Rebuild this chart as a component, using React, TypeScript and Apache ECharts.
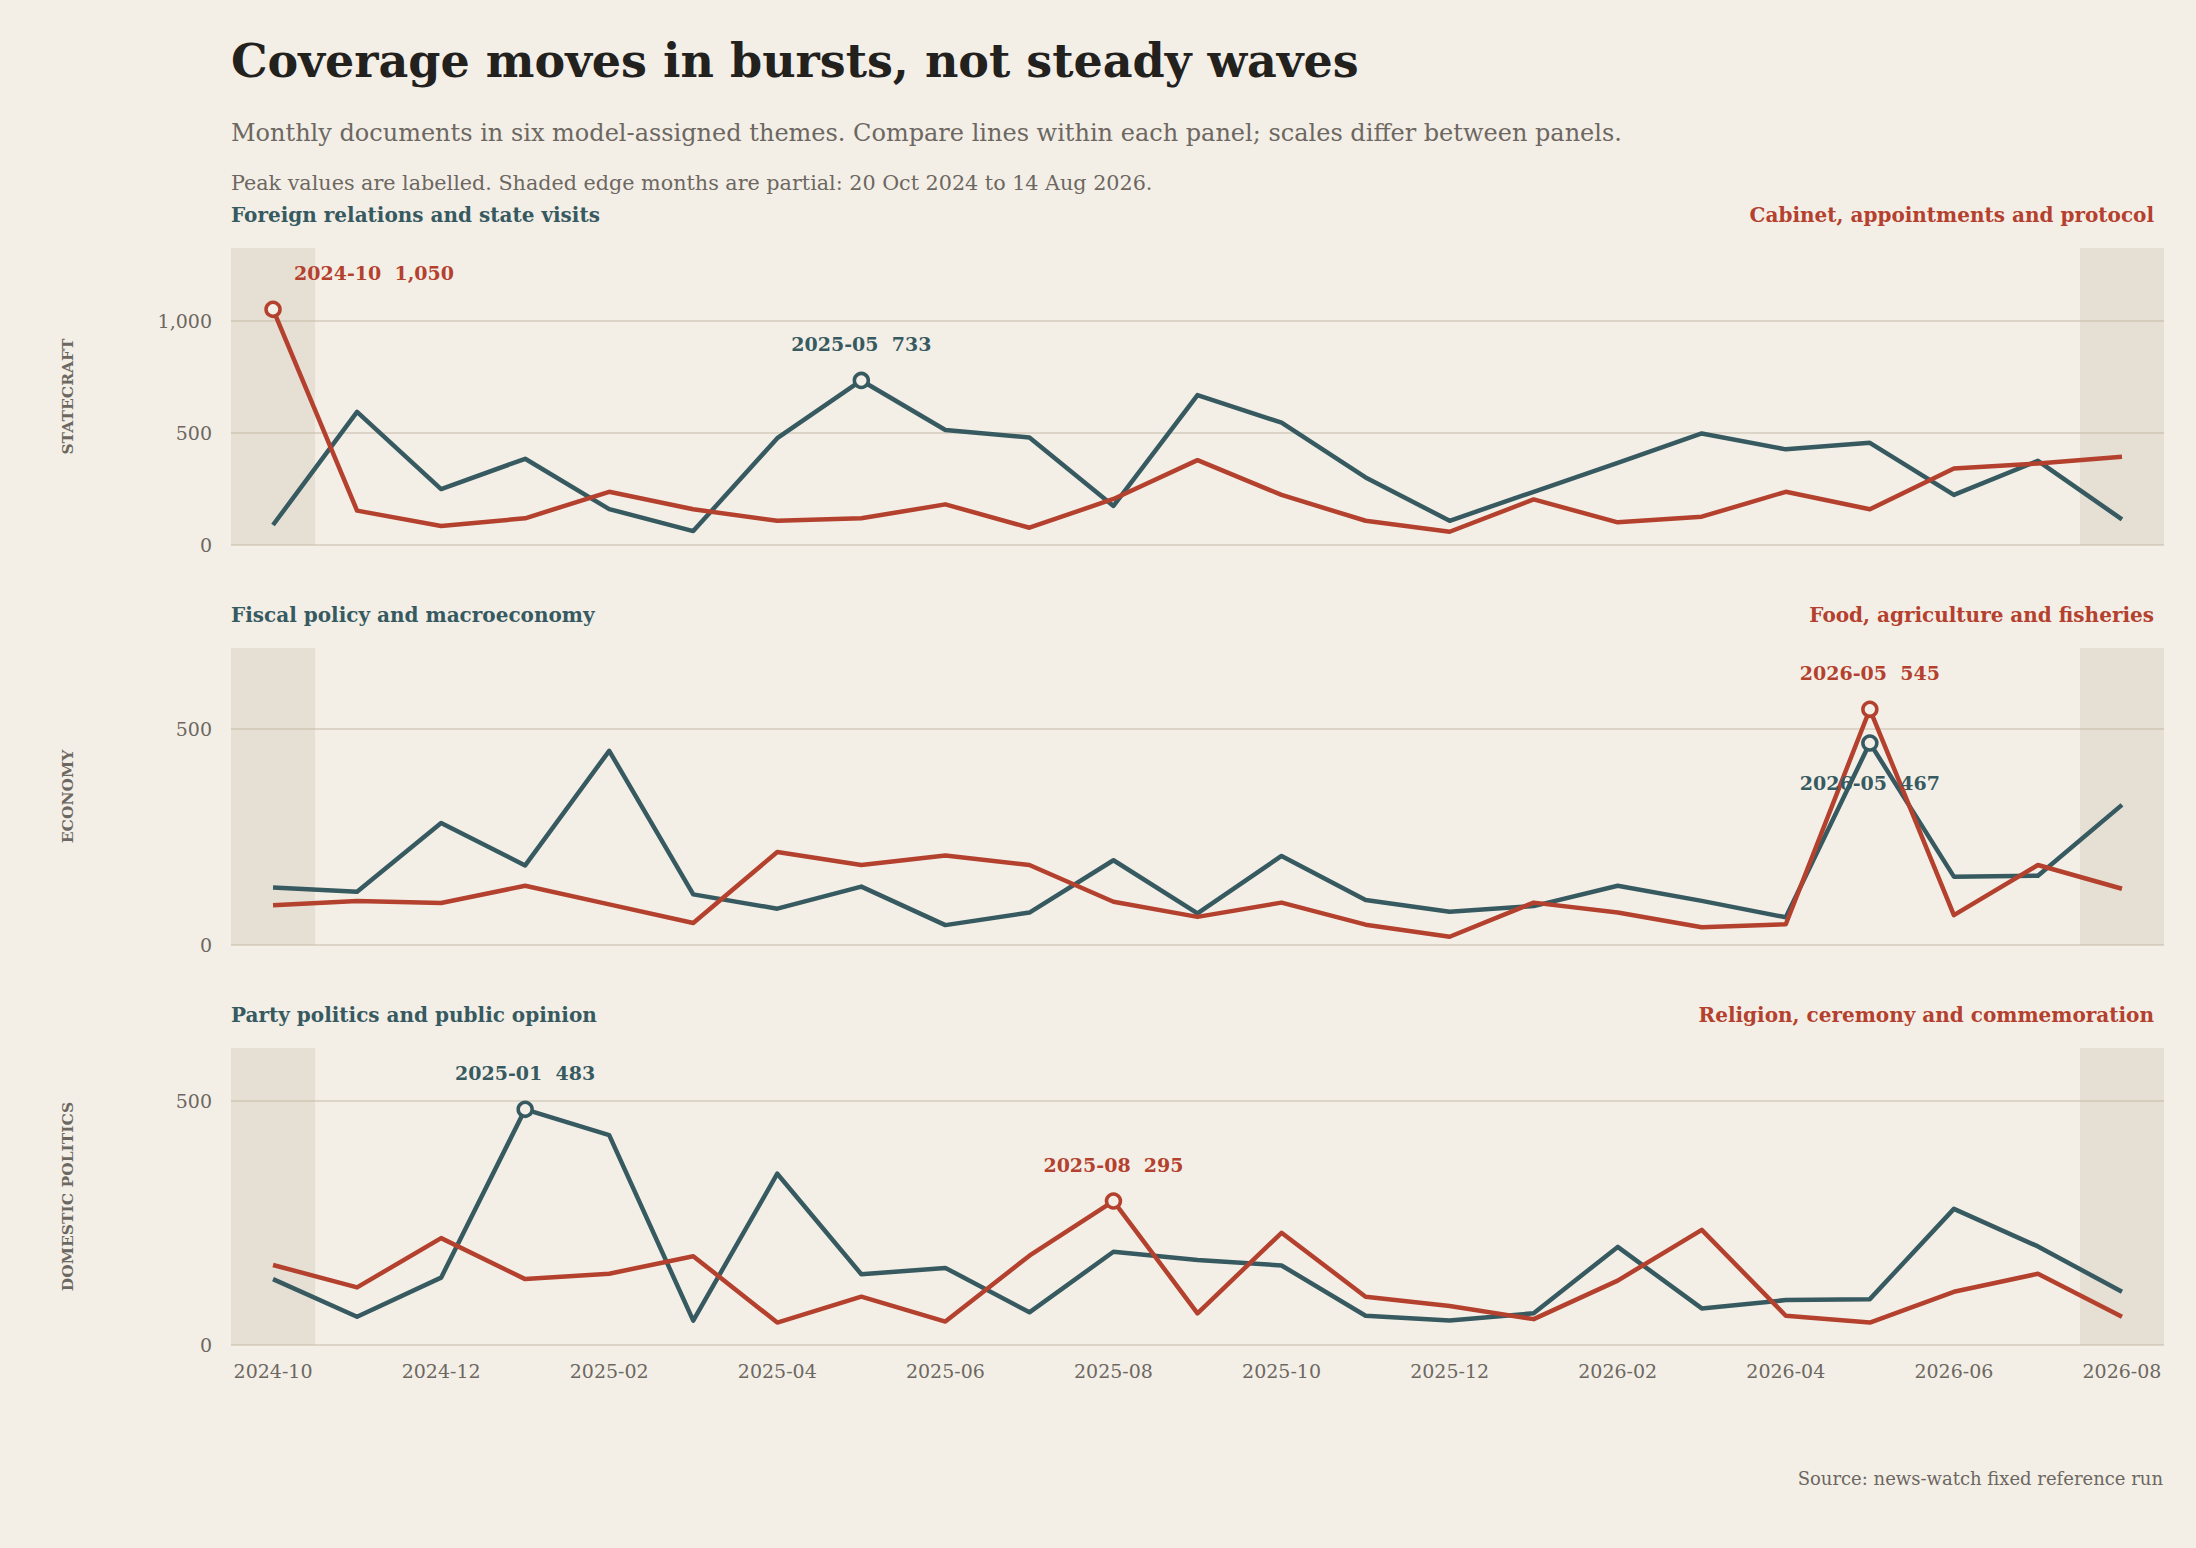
import React, { useEffect, useRef } from "react";
import * as echarts from "echarts";

const months = [
  "2024-10", "2024-11", "2024-12", "2025-01", "2025-02", "2025-03", "2025-04", "2025-05",
  "2025-06", "2025-07", "2025-08", "2025-09", "2025-10", "2025-11", "2025-12", "2026-01",
  "2026-02", "2026-03", "2026-04", "2026-05", "2026-06", "2026-07", "2026-08",
];

const statecraftForeign = [89, 593, 249, 384, 160, 62, 476, 733, 512, 479, 174, 668, 545, 301, 108, 237, 366, 497, 426, 455, 223, 375, 114];
const statecraftCabinet = [1050, 153, 85, 119, 237, 159, 108, 119, 181, 77, 205, 378, 223, 108, 59, 203, 101, 126, 237, 159, 341, 363, 393];
const economyFiscal = [133, 123, 282, 184, 449, 117, 84, 135, 46, 75, 196, 73, 206, 104, 77, 90, 137, 102, 64, 467, 158, 160, 324];
const economyFood = [92, 102, 97, 137, 94, 51, 215, 185, 207, 185, 100, 65, 98, 47, 19, 98, 75, 41, 48, 545, 69, 185, 130];
const domesticParty = [135, 58, 138, 483, 430, 50, 351, 145, 158, 67, 191, 174, 163, 60, 50, 65, 201, 75, 92, 94, 279, 202, 109];
const domesticReligion = [164, 118, 219, 135, 146, 182, 46, 99, 48, 183, 295, 65, 230, 99, 80, 53, 132, 236, 60, 46, 109, 146, 58];

const groupNames = ["STATECRAFT", "ECONOMY", "DOMESTIC POLITICS"];
const leftThemes = ["Foreign relations and state visits", "Fiscal policy and macroeconomy", "Party politics and public opinion"];
const rightThemes = ["Cabinet, appointments and protocol", "Food, agriculture and fisheries", "Religion, ceremony and commemoration"];
const leftData = [statecraftForeign, economyFiscal, domesticParty];
const rightData = [statecraftCabinet, economyFood, domesticReligion];
// where each peak label sits relative to its point
const leftLabelPos = ["top", "bottom", "top"];
const rightLabelPos = ["top", "top", "top"];

const titleText = "Coverage moves in bursts, not steady waves";
const subtitleText = "Monthly documents in six model-assigned themes. Compare lines within each panel; scales differ between panels.";
const noteText = "Peak values are labelled. Shaded edge months are partial: 20 Oct 2024 to 14 Aug 2026.";
const sourceText = "Source: news-watch fixed reference run";

const BG = "#f3efe7";
const SHADE = "rgba(195,179,159,0.26)";
const GRID = "#dcd5c7";
const SLATE = "#375a61";
const RED = "#b4412e";
const GRAY = "#6d6761";
const INK = "#23211d";
const FONT = "'DejaVu Serif', serif";

const GRID_LEFT = 231;
const GRID_RIGHT = 32;
const GRID_TOPS = [248, 648, 1048];
const GRID_H = 297;

function fmt(v: number) {
  return v.toLocaleString("en-US");
}

function makeSeries(data: number[], color: string, idx: number, name: string, pos: string) {
  let peak = 0;
  data.forEach((v, j) => {
    if (v > data[peak]) peak = j;
  });
  const first = peak === 0;
  return {
    type: "line",
    name,
    xAxisIndex: idx,
    yAxisIndex: idx,
    symbol: "none",
    z: 3,
    lineStyle: { color, width: 4.5, join: "round" },
    itemStyle: { color },
    emphasis: { disabled: true },
    data: data.map((v, j) =>
      j === peak
        ? {
            value: v,
            symbol: "circle",
            symbolSize: 14,
            itemStyle: { color: BG, borderColor: color, borderWidth: 3.5 },
            label: {
              show: true,
              position: pos,
              distance: pos === "top" ? 18 : 22,
              align: first ? "left" : "center",
              offset: first ? [21, 0] : [0, 0],
              formatter: `${months[j]}  ${fmt(v)}`,
              color,
              fontFamily: FONT,
              fontWeight: "bold",
              fontSize: 19,
            },
          }
        : v
    ),
  };
}

export default function App() {
  const ref = useRef<HTMLDivElement>(null);
  useEffect(() => {
    document.body.style.margin = "0";
    document.body.style.background = BG;
    if (!ref.current) return;
    const chart = echarts.init(ref.current, undefined, { renderer: "svg" });

    const grids = GRID_TOPS.map((t) => ({ left: GRID_LEFT, right: GRID_RIGHT, top: t, height: GRID_H }));
    const xAxes = GRID_TOPS.map((_, i) => ({
      type: "category",
      gridIndex: i,
      data: months,
      boundaryGap: true,
      axisLine: { show: false },
      axisTick: { show: false },
      axisLabel: {
        show: i === 2,
        interval: 1,
        color: GRAY,
        fontFamily: FONT,
        fontSize: 19,
        margin: 16,
      },
      splitLine: { show: false },
      splitArea: {
        show: true,
        interval: 0,
        areaStyle: {
          color: months.map((_, j) => (j === 0 || j === months.length - 1 ? SHADE : "rgba(0,0,0,0)")),
        },
      },
    }));
    const yAxes = GRID_TOPS.map((_, i) => {
      const peak = Math.max(...leftData[i], ...rightData[i]);
      return {
        type: "value",
        gridIndex: i,
        min: 0,
        max: peak * 1.26,
        interval: 500,
        axisLine: { show: false },
        axisTick: { show: false },
        axisLabel: {
          color: GRAY,
          fontFamily: FONT,
          fontSize: 19,
          margin: 19,
          showMaxLabel: false,
          padding: [14, 0, 0, 0],
          formatter: (v: number) => (v % 500 === 0 ? fmt(v) : ""),
        },
        splitLine: { show: true, showMaxLine: false, lineStyle: { color: GRID, width: 2 } },
      };
    });

    const series: any[] = [];
    GRID_TOPS.forEach((_, i) => {
      series.push(makeSeries(leftData[i], SLATE, i, leftThemes[i], leftLabelPos[i]));
      series.push(makeSeries(rightData[i], RED, i, rightThemes[i], rightLabelPos[i]));
    });

    const graphics: any[] = [
      {
        type: "text",
        left: GRID_LEFT,
        top: 38,
        style: { text: titleText, fill: INK, font: `bold 46px ${FONT}` },
      },
      {
        type: "text",
        left: GRID_LEFT,
        top: 121,
        style: { text: subtitleText, fill: GRAY, font: `24px ${FONT}` },
      },
      {
        type: "text",
        left: GRID_LEFT,
        top: 172,
        style: { text: noteText, fill: GRAY, font: `20.7px ${FONT}` },
      },
      {
        type: "text",
        right: 33,
        top: 1469,
        style: { text: sourceText, fill: GRAY, font: `18px ${FONT}` },
      },
    ];
    GRID_TOPS.forEach((t, i) => {
      graphics.push({
        type: "text",
        left: GRID_LEFT,
        top: t - 43,
        style: { text: leftThemes[i], fill: SLATE, font: `bold 20px ${FONT}` },
      });
      graphics.push({
        type: "text",
        right: 42,
        top: t - 43,
        style: { text: rightThemes[i], fill: RED, font: `bold 20px ${FONT}`, align: "left" },
      });
      graphics.push({
        type: "text",
        x: 67,
        y: t + GRID_H / 2,
        rotation: Math.PI / 2,
        style: {
          text: groupNames[i],
          fill: GRAY,
          font: `bold 15.5px ${FONT}`,
          align: "center",
          verticalAlign: "middle",
        },
      });
    });

    chart.setOption({
      animation: false,
      backgroundColor: BG,
      textStyle: { fontFamily: FONT },
      grid: grids,
      xAxis: xAxes,
      yAxis: yAxes,
      series,
      graphic: graphics,
    });
    return () => chart.dispose();
  }, []);
  return <div ref={ref} style={{ width: 2196, height: 1548, background: BG }} />;
}
